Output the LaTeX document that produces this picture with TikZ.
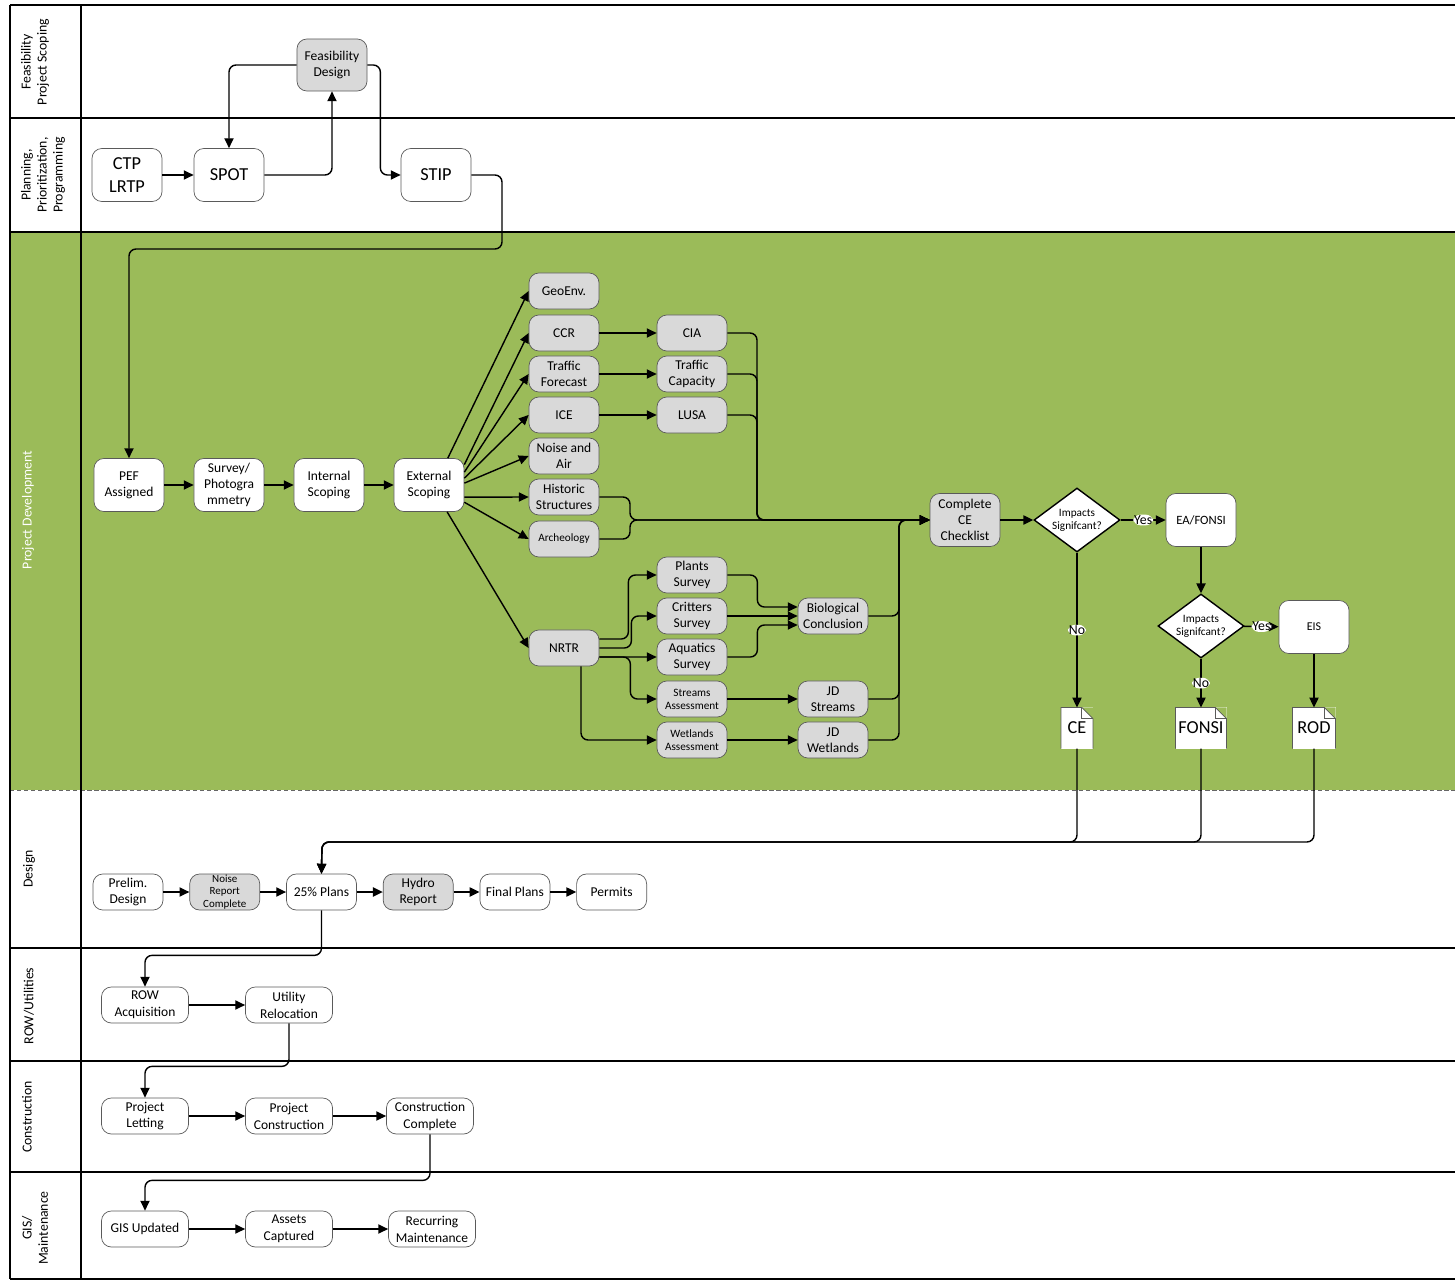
\documentclass[tikz,border=0pt]{standalone}
\usepackage{fontspec}
\setmainfont{Carlito}
\usetikzlibrary{shapes.geometric, arrows.meta, positioning}
\definecolor{lanegreen}{RGB}{155, 187, 89}
\definecolor{boxgray}{RGB}{217, 217, 217}
\definecolor{edgegray}{RGB}{90, 90, 90}

\begin{document}
\begin{tikzpicture}[x=0.025cm, y=-0.025cm,
    box/.style={draw=edgegray, line width=0.5pt, rounded corners=7pt, fill=white,
                minimum width=1.75cm, minimum height=1.325cm, align=center,
                inner sep=1pt, font=\fontsize{9.6}{11.6}\selectfont},
    task/.style={box, fill=boxgray, minimum height=0.9cm},
    flat/.style={box, minimum height=0.9cm},
    wide/.style={minimum width=2.175cm, font=\fontsize{9.6}{12}\selectfont},
    bigtext/.style={font=\fontsize{13}{16.5}\selectfont},
    smalltext/.style={font=\fontsize{8}{9.4}\selectfont},
    decision/.style={diamond, draw=black, line width=1pt, fill=white, aspect=1.3,
                     inner sep=0pt, minimum width=2.15cm, minimum height=1.6cm,
                     align=center, font=\fontsize{8}{9.4}\selectfont},
    doc/.style={fill=white, minimum height=1.025cm, inner sep=2pt, outer sep=0pt,
                text depth=-3pt, font=\fontsize{13}{16}\selectfont},
    arr/.style={-{Triangle[length=7pt, width=6.5pt]}, line width=1pt, rounded corners=5pt},
    lane/.style={line width=1.4pt},
    lanetitle/.style={rotate=90, align=center, font=\fontsize{9.8}{11.4}\selectfont},
    answer/.style={fill=white, inner sep=0.6pt, font=\fontsize{9.8}{11}\selectfont}
]
    \useasboundingbox (0,0) rectangle (1455,1281);

    % Swim lanes
    \fill[lanegreen] (10,232) rectangle (1455,790);
    \foreach \y in {5,118,232,948,1061,1172,1279}
        \draw[lane] (10,\y) -- (1455,\y);
    \draw[densely dashed, black!60, line width=0.5pt] (10,790) -- (1455,790);
    \draw[lane] (10,5) -- (10,1279);
    \draw[lane] (81,5) -- (81,1279);

    \node[lanetitle] (feastitle) at (35,62) {Feasibility\\Project Scoping};
    \node[lanetitle] (plantitle) at (43,175) {Planning,\\Prioritization,\\Programming};
    \node[lanetitle, text=white] (devtitle) at (28,510) {Project Development};
    \node[lanetitle] (designtitle) at (29,869) {Design};
    \node[lanetitle] (rowtitle) at (29,1006) {ROW/Utilities};
    \node[lanetitle] (consttitle) at (27,1117) {Construction};
    \node[lanetitle] (gistitle) at (35,1228) {GIS/\\Maintenance};

    % Feasibility and planning
    \node[box, fill=boxgray, minimum height=1.3cm] (feas) at (332,65) {Feasibility\\Design};
    \node[box, bigtext] (ctp) at (127,175) {CTP\\LRTP};
    \node[box, bigtext] (spot) at (229,175) {SPOT};
    \node[box, bigtext] (stip) at (436,175) {STIP};

    % Project development
    \node[box] (pef) at (129,485) {PEF\\Assigned};
    \node[box] (survey) at (229,485) {Survey/\\Photogra\\mmetry};
    \node[box] (intscope) at (329,485) {Internal\\Scoping};
    \node[box] (extscope) at (429,485) {External\\Scoping};

    \node[task] (geo) at (564,291) {GeoEnv.};
    \node[task] (ccr) at (564,333) {CCR};
    \node[task] (tfore) at (564,374) {Traffic\\Forecast};
    \node[task] (ice) at (564,415) {ICE};
    \node[task] (noise) at (564,456) {Noise and\\Air};
    \node[task] (hist) at (564,497) {Historic\\Structures};
    \node[task, smalltext] (arch) at (564,539) {Archeology};
    \node[task] (nrtr) at (564,648) {NRTR};

    \node[task] (cia) at (692,333) {CIA};
    \node[task] (tcap) at (692,374) {Traffic\\Capacity};
    \node[task] (lusa) at (692,415) {LUSA};
    \node[task] (plants) at (692,575) {Plants\\Survey};
    \node[task] (critters) at (692,616) {Critters\\Survey};
    \node[task] (aquatics) at (692,657) {Aquatics\\Survey};
    \node[task, smalltext] (streams) at (692,699) {Streams\\Assessment};
    \node[task, smalltext] (wetlands) at (692,740) {Wetlands\\Assessment};

    \node[task] (bio) at (833,616) {Biological\\Conclusion};
    \node[task] (jdstreams) at (833,699) {JD\\Streams};
    \node[task] (jdwet) at (833,740) {JD\\Wetlands};

    \node[task, minimum height=1.325cm] (cechk) at (965,520) {Complete\\CE\\Checklist};
    \node[decision] (sig1) at (1077,520) {Impacts\\Signifcant?};
    \node[box, font=\fontsize{9}{11}\selectfont] (eafonsi) at (1201,520) {EA/FONSI};
    \node[decision] (sig2) at (1201,626) {Impacts\\Signifcant?};
    \node[box, font=\fontsize{8.5}{10}\selectfont] (eis) at (1314,627) {EIS};

    \node[doc, minimum width=0.8cm] (cedoc) at (1077,728) {CE};
    \node[doc, minimum width=1.275cm] (fonsidoc) at (1201,728) {FONSI};
    \node[doc, minimum width=1.075cm] (roddoc) at (1314,728) {ROD};
    \foreach \d in {cedoc,fonsidoc,roddoc}{
        \fill[lanegreen] ([xshift=-0.28cm]\d.north east) -- (\d.north east)
            -- ([yshift=-0.28cm]\d.north east) -- cycle;
        \draw[edgegray, line width=0.5pt] (\d.south west) -- (\d.north west)
            -- ([xshift=-0.28cm]\d.north east) -- ([yshift=-0.28cm]\d.north east)
            -- (\d.south east);
        \draw[edgegray, line width=0.5pt] ([xshift=-0.28cm]\d.north east)
            |- ([yshift=-0.28cm]\d.north east);
    }

    % Design
    \node[flat] (prelim) at (128,892) {Prelim.\\Design};
    \node[flat, fill=boxgray, inner sep=0pt, font=\fontsize{7.8}{9}\selectfont] (noiserep)
        [right=0.65cm of prelim] {Noise\\Report\\Complete};
    \node[flat] (plans25) [right=0.65cm of noiserep] {25\% Plans};
    \node[flat, fill=boxgray] (hydro) [right=0.65cm of plans25] {Hydro\\Report};
    \node[flat] (final) [right=0.65cm of hydro] {Final Plans};
    \node[flat] (permits) [right=0.65cm of final] {Permits};

    % ROW / Utilities
    \node[flat, wide] (rowacq) at (145,1005) {ROW\\Acquisition};
    \node[flat, wide] (utility) at (289,1005) {Utility\\Relocation};

    % Construction
    \node[flat, wide] (letting) at (145,1116) {Project\\Letting};
    \node[flat, wide] (pconst) at (289,1116) {Project\\Construction};
    \node[flat, wide] (ccomplete) at (430,1116) {Construction\\Complete};

    % GIS / Maintenance
    \node[flat, wide] (gis) at (145,1229) {GIS Updated};
    \node[flat, wide] (assets) at (289,1229) {Assets\\Captured};
    \node[flat, wide] (recur) at (432,1229) {Recurring\\Maintenance};

    % Connectors - planning
    \draw[arr] (ctp) -- (spot);
    \draw[arr] (spot.east) -| (feas.south);
    \draw[arr] (feas.west) -| (spot.north);
    \draw[arr] (feas.east) -- ++(13,0) |- (stip.west);
    \coordinate (stipturn) at (502,249);
    \draw[arr] (stip.east) -| (stipturn) -| (pef.north);

    % Connectors - scoping
    \draw[arr] (pef) -- (survey);
    \draw[arr] (survey) -- (intscope);
    \draw[arr] (intscope) -- (extscope);
    \draw[arr] (extscope.55) -- (geo.west);
    \draw[arr] (extscope.30) -- (ccr.west);
    \draw[arr] (extscope.20) -- (tfore.west);
    \draw[arr] (extscope.11) -- (ice.west);
    \draw[arr] (extscope.3) -- (noise.west);
    \draw[arr] (extscope.-19) -- (hist.west);
    \draw[arr] (extscope.-26) -- (arch.west);
    \draw[arr] (extscope.-56) -- (nrtr.west);

    \draw[arr] (ccr) -- (cia);
    \draw[arr] (tfore) -- (tcap);
    \draw[arr] (ice) -- (lusa);

    % Connectors - merge into CE checklist
    \coordinate (busl) at (630,520);
    \coordinate (busm) at (757,520);
    \coordinate (busr) at (899,520);
    \draw[arr] (cia.east) -| (busm) -- (cechk.west);
    \draw[arr] (tcap.east) -| (busm) -- (cechk.west);
    \draw[arr] (lusa.east) -| (busm) -- (cechk.west);
    \draw[arr] (hist.east) -| (busl) -- (cechk.west);
    \draw[arr] (arch.east) -| (busl) -- (cechk.west);
    \draw[arr] (bio.east) -| (busr) -- (cechk.west);
    \draw[arr] (jdstreams.east) -| (busr) -- (cechk.west);
    \draw[arr] (jdwet.east) -| (busr) -- (cechk.west);

    % Connectors - NRTR
    \draw[arr] ([yshift=0.225cm]nrtr.east) -- ++(29,0) |- (plants.west);
    \draw[arr] (nrtr.east) -- ++(32,0) |- (critters.west);
    \draw[arr] ([yshift=-0.225cm]nrtr.east) -- (aquatics.west);
    \draw[arr] ([yshift=-0.225cm]nrtr.east) -- ++(31,0) |- (streams.west);
    \draw[arr] ([xshift=0.425cm]nrtr.south) |- (wetlands.west);
    \draw[arr] (plants.east) -- ++(30,0) |- ([yshift=0.225cm]bio.west);
    \draw[arr] (critters) -- (bio);
    \draw[arr] (aquatics.east) -- ++(30,0) |- ([yshift=-0.225cm]bio.west);
    \draw[arr] (streams) -- (jdstreams);
    \draw[arr] (wetlands) -- (jdwet);

    % Connectors - decisions
    \draw[arr] (cechk) -- (sig1);
    \draw[arr] (sig1) -- node[answer] {Yes} (eafonsi);
    \draw[arr] (sig1) -- node[answer] {No} (cedoc);
    \draw[arr] (eafonsi) -- (sig2);
    \draw[arr] (sig2) -- node[answer] {Yes} (eis);
    \draw[arr] (sig2) -- node[answer] {No} (fonsidoc);
    \draw[arr] (eis) -- (roddoc);

    % Connectors - back to design
    \coordinate (ret) at (322,842);
    \draw[arr] (cedoc.south) |- (ret) -- (plans25.north);
    \draw[arr] (fonsidoc.south) |- (ret) -- (plans25.north);
    \draw[arr] (roddoc.south) |- (ret) -- (plans25.north);

    \draw[arr] (prelim) -- (noiserep);
    \draw[arr] (noiserep) -- (plans25);
    \draw[arr] (plans25) -- (hydro);
    \draw[arr] (hydro) -- (final);
    \draw[arr] (final) -- (permits);

    % Connectors - delivery
    \draw[arr] (plans25.south) -- ++(0,45) -| (rowacq.north);
    \draw[arr] (rowacq) -- (utility);
    \draw[arr] (utility.south) -- ++(0,43) -| (letting.north);
    \draw[arr] (letting) -- (pconst);
    \draw[arr] (pconst) -- (ccomplete);
    \draw[arr] (ccomplete.south) -- ++(0,46) -| (gis.north);
    \draw[arr] (gis) -- (assets);
    \draw[arr] (assets) -- (recur);
\end{tikzpicture}
\end{document}
